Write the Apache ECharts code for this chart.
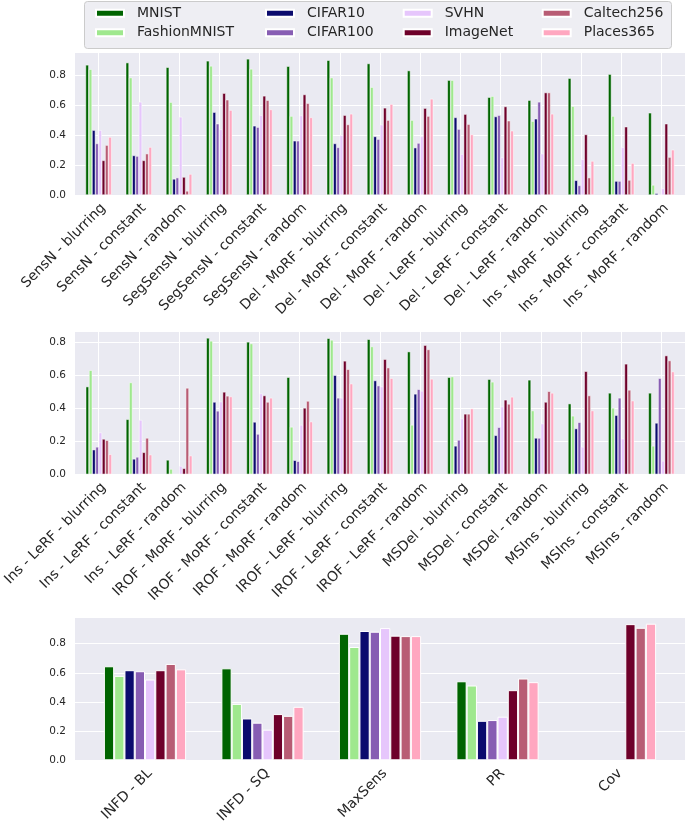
<!DOCTYPE html>
<html><head><meta charset="utf-8">
<script src="https://cdn.jsdelivr.net/npm/echarts@6/dist/echarts.min.js"></script>
<style>html,body{margin:0;padding:0;background:#fff}#c{width:685px;height:826px}</style>
</head><body><div id="c"></div>
<script>
// ---------- categories (tick labels) ----------
const cats1 = ['SensN - blurring','SensN - constant','SensN - random','SegSensN - blurring','SegSensN - constant','SegSensN - random','Del - MoRF - blurring','Del - MoRF - constant','Del - MoRF - random','Del - LeRF - blurring','Del - LeRF - constant','Del - LeRF - random','Ins - MoRF - blurring','Ins - MoRF - constant','Ins - MoRF - random'];
const cats2 = ['Ins - LeRF - blurring','Ins - LeRF - constant','Ins - LeRF - random','IROF - MoRF - blurring','IROF - MoRF - constant','IROF - MoRF - random','IROF - LeRF - blurring','IROF - LeRF - constant','IROF - LeRF - random','MSDel - blurring','MSDel - constant','MSDel - random','MSIns - blurring','MSIns - constant','MSIns - random'];
const cats3 = ['INFD - BL','INFD - SQ','MaxSens','PR','Cov'];

const seriesNames = ['MNIST','FashionMNIST','CIFAR10','CIFAR100','SVHN','ImageNet','Caltech256','Places365'];

// ---------- panel 1 values ----------
const mnist1    = [0.869,0.884,0.853,0.896,0.909,0.860,0.900,0.878,0.831,0.767,0.653,0.633,0.780,0.807,0.549];
const fashion1  = [0.840,0.784,0.620,0.862,0.842,0.527,0.784,0.720,0.500,0.767,0.660,0.493,0.593,0.527,0.067];
const cifar10_1 = [0.433,0.264,0.107,0.553,0.462,0.362,0.344,0.391,0.316,0.518,0.524,0.509,0.098,0.093,0.011];
const cifar100_1= [0.344,0.260,0.116,0.476,0.453,0.362,0.318,0.373,0.347,0.440,0.533,0.622,0.064,0.093,0.004];
const svhn1     = [0.433,0.622,0.522,0.438,0.533,0.531,0.398,0.469,0.391,0.273,0.251,0.276,0.238,0.318,0.044];
const imagenet1 = [0.231,0.231,0.120,0.680,0.662,0.671,0.533,0.582,0.580,0.540,0.591,0.684,0.404,0.456,0.476];
const caltech1  = [0.333,0.276,0.027,0.636,0.633,0.613,0.471,0.500,0.527,0.473,0.496,0.684,0.116,0.100,0.253];
const places1   = [0.387,0.320,0.140,0.567,0.571,0.518,0.542,0.607,0.642,0.404,0.429,0.542,0.227,0.213,0.302];

// ---------- panel 2 values ----------
const mnist2    = [0.531,0.333,0.087,0.826,0.802,0.588,0.824,0.818,0.743,0.588,0.576,0.572,0.428,0.493,0.493];
const fashion2  = [0.630,0.556,0.032,0.808,0.792,0.287,0.814,0.774,0.299,0.592,0.560,0.386,0.354,0.402,0.172];
const cifar10_2 = [0.149,0.093,0.000,0.438,0.317,0.085,0.600,0.568,0.487,0.172,0.236,0.220,0.277,0.358,0.311];
const cifar100_2= [0.166,0.105,0.000,0.384,0.244,0.079,0.463,0.537,0.515,0.208,0.285,0.220,0.315,0.463,0.582];
const svhn2     = [0.253,0.329,0.050,0.440,0.489,0.299,0.463,0.531,0.505,0.337,0.410,0.307,0.166,0.216,0.081];
const imagenet2 = [0.214,0.133,0.036,0.499,0.477,0.402,0.687,0.697,0.782,0.366,0.451,0.438,0.624,0.669,0.719];
const caltech2  = [0.206,0.220,0.523,0.475,0.438,0.444,0.636,0.646,0.756,0.366,0.426,0.503,0.477,0.511,0.689];
const places2   = [0.121,0.119,0.113,0.471,0.463,0.319,0.549,0.582,0.578,0.398,0.469,0.493,0.386,0.446,0.622];

// ---------- panel 3 values ----------
const mnist3    = [0.645,0.631,0.868,0.542,null];
const fashion3  = [0.579,0.387,0.777,0.513,null];
const cifar10_3 = [0.618,0.287,0.887,0.271,null];
const cifar100_3= [0.611,0.258,0.882,0.276,null];
const svhn3     = [0.554,0.210,0.907,0.299,null];
const imagenet3 = [0.618,0.317,0.855,0.481,0.934];
const caltech3  = [0.661,0.305,0.852,0.561,0.909];
const places3   = [0.624,0.367,0.852,0.536,0.937];

// ---------- styling / layout ----------
const colors = ['#006400','#9fe88e','#0b0b6e','#875db3','#e6c6fc','#6e002a','#b85c74','#ffa7c0'];
const FONT = 'DejaVu Sans';
const TXT = '#262626';

const panels = [
  {cats: cats1, vals: [mnist1,fashion1,cifar10_1,cifar100_1,svhn1,imagenet1,caltech1,places1],
   top: 52, height: 143, max: 0.955, dataLeft: 78.5, dataWidth: 603, vLines: true, gap: '35%', bw: 0.5},
  {cats: cats2, vals: [mnist2,fashion2,cifar10_2,cifar100_2,svhn2,imagenet2,caltech2,places2],
   top: 331, height: 143.3, max: 0.868, dataLeft: 78.5, dataWidth: 603, vLines: true, gap: '35%', bw: 0.5},
  {cats: cats3, vals: [mnist3,fashion3,cifar10_3,cifar100_3,svhn3,imagenet3,caltech3,places3],
   top: 617, height: 143.3, max: 0.983, dataLeft: 86.25, dataWidth: 587.5, vLines: false, gap: '30%', bw: 1}
];

const grid = [], xAxis = [], yAxis = [], series = [];
panels.forEach((p) => {
  const bg = grid.length;
  grid.push({left: 75, width: 610, top: p.top, height: p.height, show: true, backgroundColor: '#eaeaf2', borderWidth: 0});
  xAxis.push({type: 'value', gridIndex: bg, min: 0, max: 1, show: false});
  yAxis.push({type: 'value', gridIndex: bg, min: 0, max: p.max, interval: 0.2,
    axisLine: {show: false}, axisTick: {show: false},
    splitLine: {show: true, lineStyle: {color: '#ffffff', width: 1}},
    axisLabel: {showMaxLabel: false, margin: 9, fontFamily: FONT, fontSize: 10.5, color: TXT,
      formatter: v => v.toFixed(1)}});

  if (p.vLines) {
    // vertical white grid lines at category centres: a helper grid spanning first..last centre
    const n = p.cats.length, band = p.dataWidth / n;
    const vg = grid.length;
    grid.push({left: p.dataLeft + band/2, width: band*(n-1), top: p.top, height: p.height, show: false});
    xAxis.push({type: 'value', gridIndex: vg, min: 0, max: n-1, interval: 1,
      axisLine: {show: false}, axisTick: {show: false}, axisLabel: {show: false},
      splitLine: {show: true, lineStyle: {color: '#ffffff', width: 1}}});
    yAxis.push({type: 'value', gridIndex: vg, min: 0, max: 1, show: false, splitLine: {show: false}});
  }

  const dg = grid.length;
  grid.push({left: p.dataLeft, width: p.dataWidth, top: p.top, height: p.height, show: false});
  xAxis.push({type: 'category', gridIndex: dg, data: p.cats,
    axisLine: {show: false}, axisTick: {show: false}, splitLine: {show: false},
    axisLabel: {interval: 0, rotate: 45, align: 'right', verticalAlign: 'top', margin: 6,
      fontFamily: FONT, fontSize: 14, color: TXT}});
  yAxis.push({type: 'value', gridIndex: dg, min: 0, max: p.max, show: false, splitLine: {show: false}});
  seriesNames.forEach((name, k) => {
    series.push({type: 'bar', name: name, xAxisIndex: dg, yAxisIndex: dg, data: p.vals[k],
      barGap: '0%', barCategoryGap: p.gap, z: 3,
      itemStyle: {color: colors[k], borderColor: '#ffffff', borderWidth: p.bw}});
  });
});

const legendCols = [
  {left: 95, data: ['MNIST','FashionMNIST']},
  {left: 265, data: ['CIFAR10','CIFAR100']},
  {left: 402.7, data: ['SVHN','ImageNet']},
  {left: 541.7, data: ['Caltech256','Places365']}
];
const legend = legendCols.map(c => ({
  left: c.left, top: 6.3, orient: 'vertical', padding: 0, itemGap: 5.4,
  icon: 'rect', itemWidth: 28, itemHeight: 7, selectedMode: false,
  data: c.data,
  textStyle: {fontFamily: FONT, fontSize: 14, color: TXT, lineHeight: 14, padding: [0,0,0,8]}
}));

const chart = echarts.init(document.getElementById('c'), null, {renderer: 'canvas'});
chart.setOption({
  animation: false,
  backgroundColor: '#ffffff',
  color: colors,
  graphic: [{type: 'rect', left: 84, top: 1, z: 0,
    shape: {width: 587, height: 47, r: 3},
    style: {fill: '#eeeef3', stroke: '#cbcbcb', lineWidth: 1}}],
  legend, grid, xAxis, yAxis, series
});
</script></body></html>
